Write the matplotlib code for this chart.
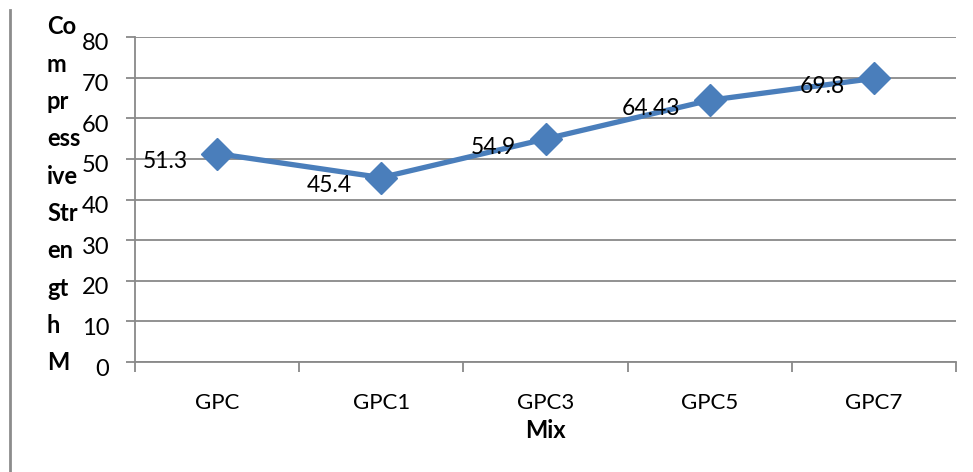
import matplotlib
matplotlib.use("Agg")
import matplotlib.pyplot as plt
from matplotlib.lines import Line2D
from matplotlib.transforms import ScaledTranslation

mixes = ["GPC", "GPC1", "GPC3", "GPC5", "GPC7"]
strength = [51.3, 45.4, 54.9, 64.43, 69.8]
labels = ["51.3", "45.4", "54.9", "64.43", "69.8"]
y_ticks = [0, 10, 20, 30, 40, 50, 60, 70, 80]
y_title_lines = ["Co", "m", "pr", "ess", "ive", "Str", "en", "gt", "h", "M"]

plt.rcParams["font.family"] = ["Lato", "DejaVu Sans"]

W, H = 973, 472
fig = plt.figure(figsize=(W / 100, H / 100), dpi=100)
ax = fig.add_axes([135 / W, 1 - 362 / H, (956 - 135) / W, (362 - 37) / H])

grid_col = "#898989"
line_col = "#4a7ebb"

x = list(range(len(mixes)))
ax.plot(x, strength, color=line_col, lw=3.8, marker="D", markersize=16,
        markerfacecolor=line_col, markeredgecolor=line_col, zorder=3)

for xi, yi, lab in zip(x, strength, labels):
    ax.annotate(lab, (xi, yi), xytext=(-21, -6), textcoords="offset points",
                ha="right", va="center", fontsize=16.5, color="black", zorder=4)

ax.set_xlim(-0.5, len(mixes) - 0.5)
ax.set_ylim(0, 80)
ax.set_yticks(y_ticks)
ax.set_yticklabels([str(v) for v in y_ticks], fontsize=17)
ax.yaxis.grid(True, color=grid_col, lw=1.3)
ax.set_axisbelow(True)

ax.set_xticks(x)
ax.set_xticklabels(mixes, fontsize=16)
ax.tick_params(axis="x", length=0, pad=22)
ax.set_xticks([i - 0.5 for i in range(len(mixes) + 1)], minor=True)
ax.tick_params(axis="x", which="minor", length=7, color=grid_col, width=1.3, direction="out")
ax.tick_params(axis="y", length=6.5, color=grid_col, width=1.3, direction="out", pad=12)

# value labels sit slightly below their gridlines
shift = ScaledTranslation(0, -5 / 100, fig.dpi_scale_trans)
for t in ax.get_yticklabels():
    t.set_transform(t.get_transform() + shift)

for side in ("top", "right"):
    ax.spines[side].set_visible(False)
for side in ("left", "bottom"):
    ax.spines[side].set_color(grid_col)
    ax.spines[side].set_linewidth(1.3)

ax.set_xlabel("Mix", fontsize=17, fontweight="bold", labelpad=5)

# wrapped vertical axis title
n = len(y_title_lines)
top_px, bot_px = 27, 363
for i, part in enumerate(y_title_lines):
    ypx = top_px + i * (bot_px - top_px) / (n - 1)
    fig.text(47 / W, 1 - ypx / H, part, ha="left", va="center",
             fontsize=17, fontweight="bold")

# frame line on the left edge
fig.add_artist(Line2D([10 / W, 10 / W], [0, 1 - 10 / H], transform=fig.transFigure,
                      color="#8c8c8c", lw=2))

fig.savefig("out.png", dpi=100)
